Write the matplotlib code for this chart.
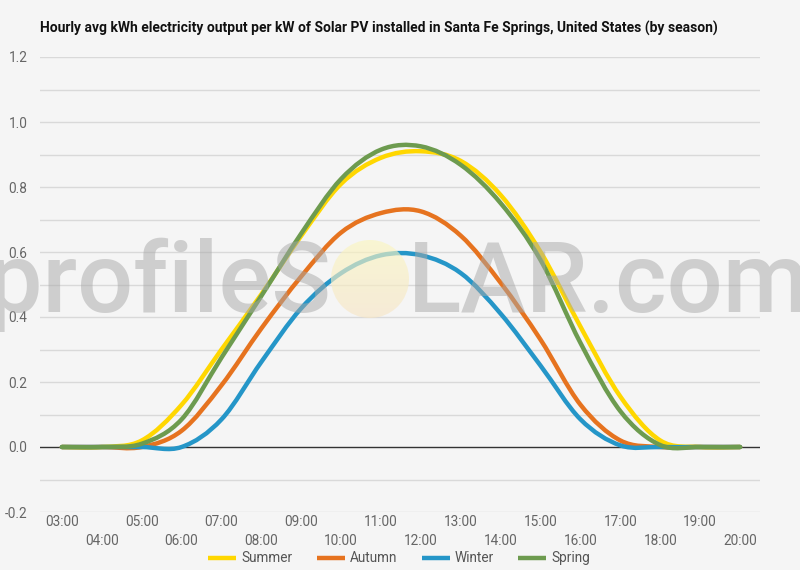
import matplotlib
matplotlib.use("Agg")
import matplotlib.pyplot as plt
import numpy as np
from matplotlib.path import Path
from matplotlib.patches import PathPatch, Circle
from matplotlib.lines import Line2D
from matplotlib.colors import LinearSegmentedColormap

hours = ["03:00", "04:00", "05:00", "06:00", "07:00", "08:00", "09:00", "10:00", "11:00",
         "12:00", "13:00", "14:00", "15:00", "16:00", "17:00", "18:00", "19:00", "20:00"]
summer = [0, 0, 0.02, 0.13, 0.30, 0.47, 0.65, 0.81, 0.89, 0.91, 0.88, 0.775, 0.60, 0.37, 0.155, 0.02, 0, 0]
autumn = [0, 0, 0, 0.05, 0.19, 0.365, 0.525, 0.66, 0.72, 0.725, 0.65, 0.505, 0.33, 0.13, 0.02, 0, 0, 0]
winter = [0, 0, 0, 0, 0.085, 0.262, 0.427, 0.535, 0.59, 0.59, 0.535, 0.41, 0.25, 0.085, 0.005, 0, 0, 0]
spring = [0, 0, 0.01, 0.085, 0.275, 0.465, 0.657, 0.825, 0.915, 0.925, 0.868, 0.75, 0.575, 0.32, 0.11, 0.006, 0, 0]
series_names = ["Summer", "Autumn", "Winter", "Spring"]
series_vals = [summer, autumn, winter, spring]
colors = ["#ffd700", "#e6731f", "#2596c8", "#6d9b4f"]
title = "Hourly avg kWh electricity output per kW of Solar PV installed in Santa Fe Springs, United States (by season)"

plt.rcParams['font.family'] = ['Roboto', 'DejaVu Sans']

W, H = 800, 570
fig = plt.figure(figsize=(8, 5.7), dpi=100, facecolor="#f5f5f5")
ax = fig.add_axes([40 / W, 1 - 512 / H, 720 / W, 455 / H])
ax.set_facecolor("#f5f5f5")
for s in ax.spines.values():
    s.set_visible(False)

ax.set_xlim(-0.55, 17.5)
ax.set_ylim(-0.2, 1.2)

# gridlines every 0.1
for g in np.arange(-0.2, 1.201, 0.1):
    if abs(g) < 1e-9:
        continue
    ax.axhline(g, color="#d9d9d9", lw=1.0, zorder=1)
ax.axhline(0, color="#333333", lw=1.0, zorder=2)

yt = np.arange(-0.2, 1.201, 0.2)
ax.set_yticks(yt)
ax.set_yticklabels([f"{v:.1f}" if abs(v) > 1e-9 else "0.0" for v in yt])
ax.tick_params(axis='y', length=0, pad=9, labelsize=9.8, labelcolor="#666666")
ax.set_xticks([])

# staggered x labels
for i, lab in enumerate(hours):
    yoff = -10.5 if i % 2 == 0 else -29
    ax.annotate(lab, xy=(i, -0.2), xycoords='data', xytext=(0, yoff), textcoords='offset pixels',
                ha='center', va='center', fontsize=9.8, color="#666666")


def smooth_path(xs, ys):
    """Catmull-Rom curve through the data points, as cubic Bezier segments."""
    n = len(xs)
    P = np.column_stack([xs, ys]).astype(float)
    ext = np.vstack([P[0], P, P[-1]])
    verts = [tuple(P[0])]
    codes = [Path.MOVETO]
    for i in range(n - 1):
        p0, p1, p2, p3 = ext[i], ext[i + 1], ext[i + 2], ext[i + 3]
        c1 = p1 + (p2 - p0) / 6.0
        c2 = p2 - (p3 - p1) / 6.0
        verts += [tuple(c1), tuple(c2), tuple(p2)]
        codes += [Path.CURVE4] * 3
    return Path(verts, codes)


xs = np.arange(len(hours), dtype=float)
for name, vals, c in zip(series_names, series_vals, colors):
    p = smooth_path(xs, vals)
    ax.add_patch(PathPatch(p, facecolor='none', edgecolor=c, lw=3.2, zorder=3,
                           capstyle='round', joinstyle='round'))

# title
fig.text(40 / W, 1 - 28 / H, title, fontsize=10, fontweight='bold', color="#111111",
         ha='left', va='center')

# legend
leg_items = [(208, 241), (317, 350), (422, 455), (518, 551)]
for (lx, tx), name, c in zip(leg_items, series_names, colors):
    fig.add_artist(Line2D([lx / W, (lx + 28) / W], [1 - 558 / H, 1 - 558 / H],
                          color=c, lw=3.2, solid_capstyle='butt', transform=fig.transFigure))
    fig.text(tx / W, 1 - 558 / H, name, fontsize=9.8, color="#555555", ha='left', va='center')

# watermark
fig.text(331 / W, 1 - 312 / H, "profileS", fontsize=71, fontweight='medium', color="#a8a8a8",
         alpha=0.5, ha='right', va='baseline', zorder=10)
fig.text(408 / W, 1 - 312 / H, "LAR.com", fontsize=71, fontweight='medium', color="#a8a8a8",
         alpha=0.5, ha='left', va='baseline', zorder=10)
sax = fig.add_axes([(370 - 39) / W, 1 - (279 + 39) / H, 78 / W, 78 / H])
sax.set_axis_off()
grad = np.linspace(0, 1, 100)[:, None]
cmap = LinearSegmentedColormap.from_list("sun", ["#fbf6c0", "#f7e6c6"])
im = sax.imshow(np.repeat(grad, 10, axis=1), cmap=cmap, extent=[0, 1, 0, 1], origin='upper',
                aspect='auto', alpha=0.65)
circ = Circle((0.5, 0.5), 0.5, transform=sax.transData)
im.set_clip_path(circ)
sax.set_xlim(0, 1); sax.set_ylim(0, 1)

fig.savefig("out.png", dpi=100, facecolor=fig.get_facecolor())
